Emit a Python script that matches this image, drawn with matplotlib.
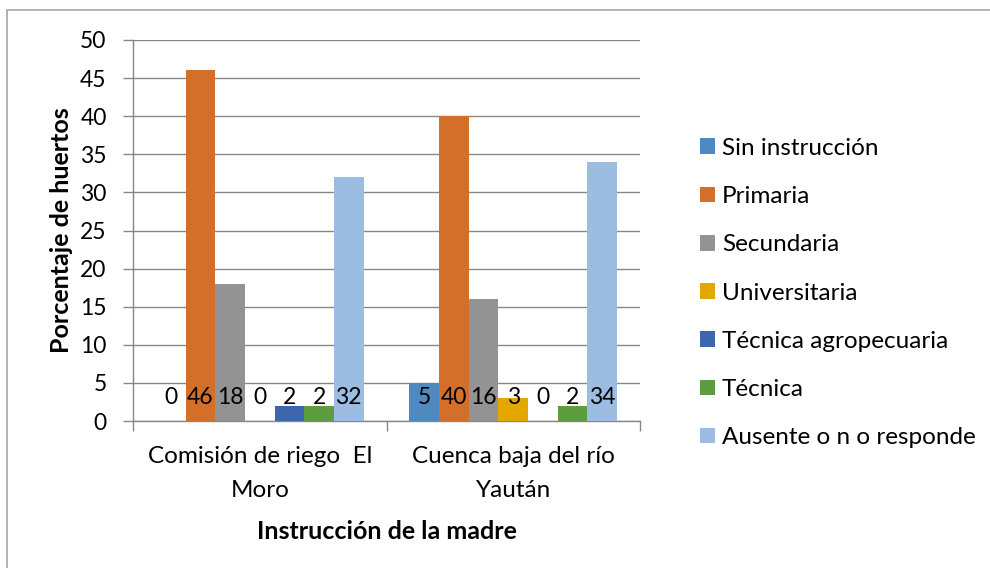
import numpy as np
import matplotlib
matplotlib.use('Agg')
import matplotlib.pyplot as plt
from matplotlib.patches import Rectangle

# Data
categories = ['Comisión de riego  El\nMoro', 'Cuenca baja del río\nYaután']
series_names = ['Sin instrucción', 'Primaria', 'Secundaria', 'Universitaria',
                'Técnica agropecuaria', 'Técnica', 'Ausente o n o responde']
el_moro = [0, 46, 18, 0, 2, 2, 32]
yautan = [5, 40, 16, 3, 0, 2, 34]
colors = ['#4F89C0', '#D46F2A', '#939393', '#E2A800', '#3D66AE', '#5F9B3F', '#9CBDE1']

plt.rcParams['font.family'] = ['Lato', 'DejaVu Sans']

fig = plt.figure(figsize=(9.9, 5.68), dpi=100)
ax = fig.add_axes([133/990, 1 - 421/568, 507/990, 381/568])

# outer chart frame (right/bottom edges run off the image)
fig.patches.append(Rectangle((7/990, -0.1), 1.2, 1.1 - 10/568, transform=fig.transFigure,
                             fill=False, edgecolor='#A6A6A6', linewidth=1.2))

values = np.array([el_moro, yautan])
n = len(series_names)
bar_w = 0.117
x = np.arange(len(categories))

for i, name in enumerate(series_names):
    pos = x - (n - 1) / 2 * bar_w + i * bar_w
    ax.bar(pos, values[:, i], width=bar_w, color=colors[i], label=name, zorder=3)
    for p, v in zip(pos, values[:, i]):
        ax.text(p, 3.1, str(v), ha='center', va='center', fontsize=16.5, color='black', zorder=4)

ax.set_xlim(-0.5, 1.5)
ax.set_ylim(0, 50)
ax.set_yticks(np.arange(0, 51, 5))
ax.set_xticks([-0.5, 0.5, 1.5], minor=False)
ax.set_xticklabels([])
ax.set_xticks(x, minor=True)
ax.set_xticklabels(categories, minor=True, fontsize=17.5, linespacing=1.75)
ax.tick_params(axis='x', which='minor', length=0, pad=18)
ax.tick_params(axis='x', which='major', length=7, color='#878787', width=1)
ax.tick_params(axis='y', length=7, color='#878787', width=1, labelsize=16.5, pad=12)

ax.grid(axis='y', color='#878787', linewidth=1, zorder=0)
for s in ['top', 'right']:
    ax.spines[s].set_visible(False)
for s in ['left', 'bottom']:
    ax.spines[s].set_color('#878787')
    ax.spines[s].set_linewidth(1)

ax.set_ylabel('Porcentaje de huertos', fontsize=18, fontweight='bold', labelpad=5)
ax.set_xlabel('Instrucción de la madre', fontsize=18, fontweight='bold', labelpad=14)

ax.legend(loc='center left', bbox_to_anchor=(690/990, 1 - 293/568), bbox_transform=fig.transFigure,
          frameon=False, fontsize=17.5, handlelength=0.62, handleheight=0.62,
          handletextpad=0.3, labelspacing=1.12, borderaxespad=0)

fig.savefig('out.png', dpi=100)
